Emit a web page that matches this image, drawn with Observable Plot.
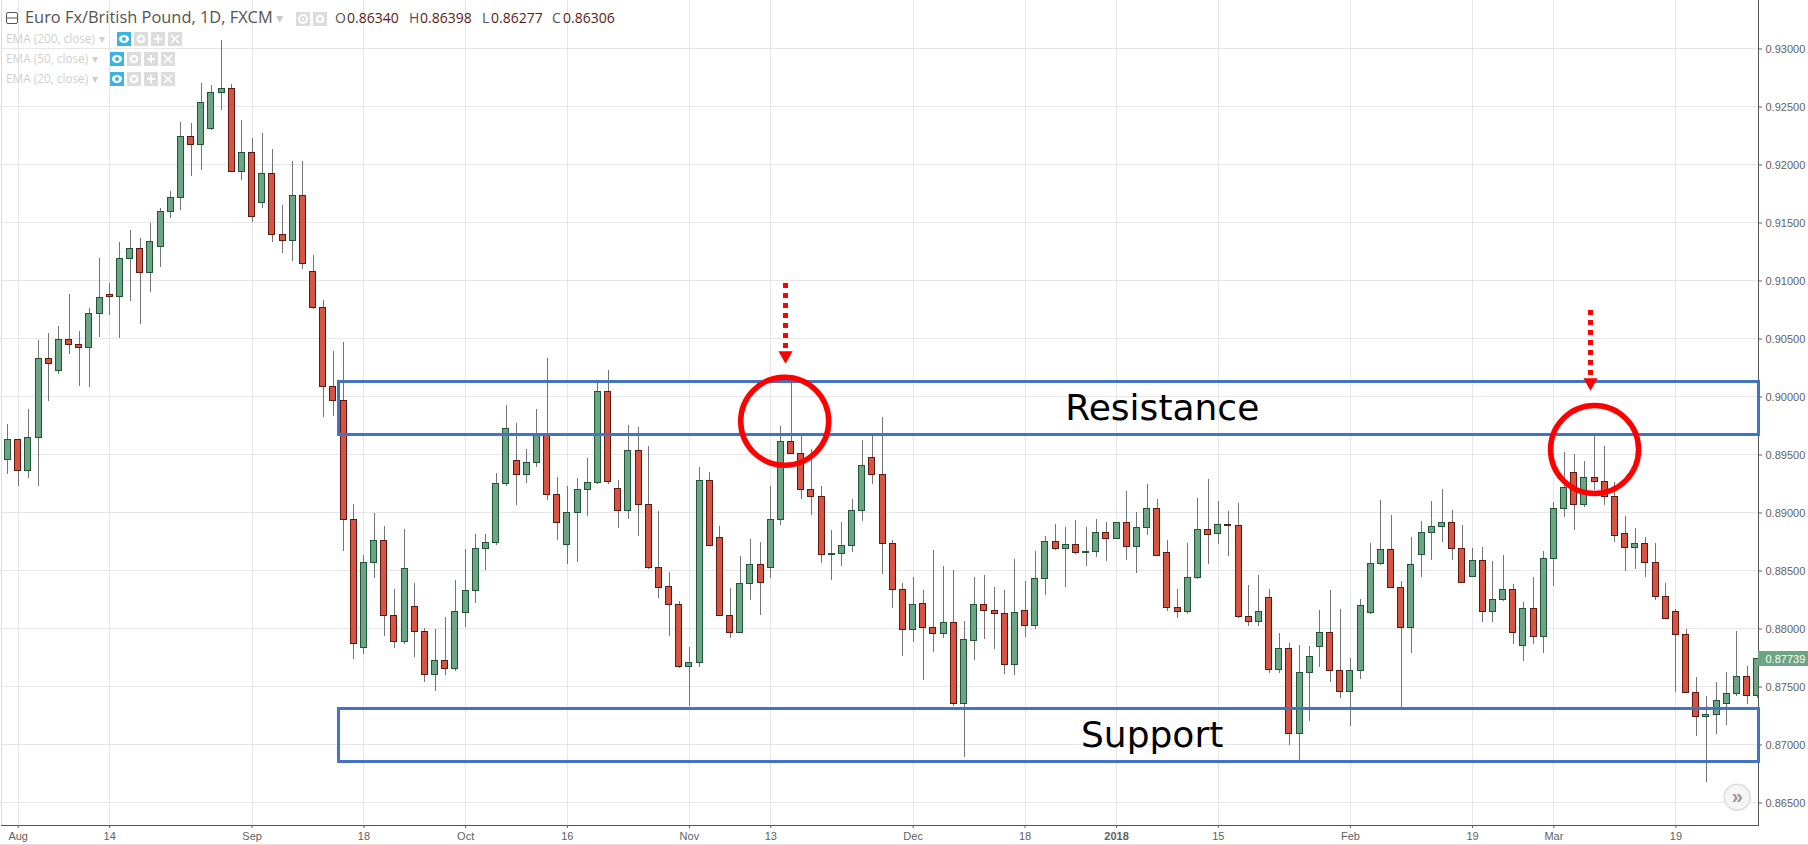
<!DOCTYPE html>
<html>
<head>
<meta charset="utf-8">
<script src="https://cdn.jsdelivr.net/npm/d3@7"></script>
<script src="https://cdn.jsdelivr.net/npm/@observablehq/plot@0.6"></script>
<style>
html,body{margin:0;padding:0;background:#fff;overflow:hidden}
#wrap{position:relative;width:1808px;height:845px}
#wrap svg.chart{display:block}
.t{position:absolute;white-space:nowrap;line-height:1}
.ico{position:absolute}
#baseline{position:absolute;left:0;top:844px;width:1808px;height:1px;background:#e0e0e0}
</style>
</head>
<body>
<div id="wrap"></div>
<script>
const opens=[0.89457,0.89630,0.89363,0.89647,0.90328,0.90225,0.90492,0.90449,0.90423,0.90716,0.90880,0.90863,0.91190,0.91277,0.91070,0.91294,0.91596,0.91716,0.92242,0.92173,0.92311,0.92622,0.92656,0.91941,0.92104,0.91673,0.91923,0.91397,0.91346,0.91734,0.91078,0.90768,0.90087,0.89966,0.88940,0.87836,0.88569,0.88759,0.88112,0.87888,0.88190,0.87974,0.87604,0.87724,0.87653,0.88135,0.88325,0.88690,0.88739,0.89250,0.89449,0.89328,0.89432,0.89673,0.89156,0.88725,0.89000,0.89199,0.89259,0.90044,0.89207,0.89018,0.89535,0.89069,0.88526,0.88362,0.88207,0.87673,0.87707,0.89276,0.88785,0.88112,0.87966,0.88388,0.88552,0.88526,0.88940,0.89613,0.89509,0.89199,0.89138,0.88641,0.88647,0.88716,0.89018,0.89475,0.89328,0.88733,0.88337,0.87992,0.88216,0.88009,0.87957,0.88052,0.87354,0.87897,0.88207,0.88155,0.88130,0.87690,0.88155,0.88026,0.88431,0.88750,0.88690,0.88725,0.88653,0.88664,0.88828,0.88776,0.88914,0.88707,0.88871,0.89035,0.88656,0.88181,0.88147,0.88440,0.88854,0.88819,0.88897,0.88888,0.88104,0.88061,0.88268,0.87647,0.87828,0.87095,0.87621,0.87845,0.87966,0.87638,0.87457,0.87638,0.88138,0.88561,0.88681,0.88354,0.88009,0.88638,0.88828,0.88880,0.88914,0.88690,0.88449,0.88587,0.88147,0.88250,0.88337,0.87854,0.88173,0.87931,0.88604,0.89035,0.89345,0.89069,0.89302,0.89268,0.89138,0.88819,0.88699,0.88733,0.88569,0.88276,0.88147,0.87949,0.87448,0.87242,0.87259,0.87354,0.87440,0.87586,0.87423];
const highs=[0.89762,0.89636,0.89888,0.90486,0.90549,0.90607,0.90883,0.90564,0.90762,0.91193,0.90975,0.91331,0.91435,0.91366,0.91495,0.91621,0.91771,0.92366,0.92357,0.92702,0.92685,0.93073,0.92691,0.92383,0.92228,0.92271,0.92133,0.91650,0.92030,0.92030,0.91219,0.90831,0.90391,0.90469,0.89072,0.88633,0.88995,0.88883,0.88339,0.88857,0.88391,0.88000,0.87995,0.88098,0.88417,0.88684,0.88814,0.88814,0.89337,0.89926,0.89771,0.89544,0.89891,0.90328,0.89302,0.89227,0.89294,0.89466,0.90127,0.90228,0.89279,0.89753,0.89736,0.89569,0.89012,0.88483,0.88233,0.87839,0.89388,0.89345,0.88883,0.88348,0.88624,0.88770,0.88745,0.89227,0.89745,0.90136,0.89659,0.89544,0.89225,0.88848,0.88917,0.89115,0.89624,0.89659,0.89820,0.88762,0.88391,0.88443,0.88331,0.88676,0.88538,0.88503,0.88063,0.88443,0.88460,0.88357,0.88331,0.88598,0.88408,0.88667,0.88796,0.88900,0.88874,0.88934,0.88874,0.88943,0.88917,0.88914,0.89184,0.89003,0.89245,0.89115,0.88762,0.88339,0.88736,0.89124,0.89288,0.89098,0.89012,0.89081,0.88374,0.88460,0.88339,0.87960,0.87877,0.87857,0.87848,0.88158,0.88331,0.88167,0.87744,0.88253,0.88733,0.89104,0.88977,0.88408,0.88785,0.88926,0.89098,0.89202,0.89021,0.88891,0.88690,0.88699,0.88581,0.88633,0.88380,0.88227,0.88440,0.88667,0.89090,0.89521,0.89503,0.89443,0.89659,0.89572,0.89262,0.88969,0.88865,0.88793,0.88733,0.88388,0.88164,0.87992,0.87578,0.87417,0.87538,0.87624,0.87977,0.87673,0.87742];
const lows=[0.89334,0.89230,0.89299,0.89230,0.89960,0.90196,0.90368,0.90090,0.90084,0.90515,0.90702,0.90506,0.90825,0.90627,0.90903,0.91119,0.91538,0.91610,0.91900,0.91952,0.92300,0.92469,0.91938,0.91866,0.91507,0.91627,0.91331,0.91236,0.91167,0.91101,0.90756,0.89825,0.89831,0.88670,0.87739,0.87782,0.88437,0.87937,0.87834,0.87868,0.87756,0.87540,0.87463,0.87601,0.87635,0.88012,0.88219,0.88503,0.88719,0.89230,0.89067,0.89256,0.89394,0.89110,0.88765,0.88558,0.88575,0.88972,0.89248,0.89248,0.88868,0.88946,0.88799,0.88512,0.88265,0.87937,0.87661,0.87333,0.87670,0.88713,0.88105,0.87920,0.87960,0.88245,0.88118,0.88437,0.88891,0.89503,0.89118,0.88980,0.88566,0.88420,0.88541,0.88661,0.88929,0.89248,0.88472,0.88178,0.87762,0.87882,0.87555,0.87796,0.87917,0.87333,0.86894,0.87727,0.87908,0.87822,0.87609,0.87598,0.87926,0.87997,0.88288,0.88679,0.88357,0.88641,0.88538,0.88618,0.88581,0.88776,0.88589,0.88477,0.88805,0.88630,0.88153,0.88092,0.88127,0.88428,0.88558,0.88730,0.88624,0.88092,0.88023,0.88023,0.87618,0.87618,0.86994,0.86865,0.87201,0.87667,0.87540,0.87402,0.87161,0.87566,0.88121,0.88549,0.88345,0.87310,0.87790,0.88440,0.88587,0.88747,0.88587,0.88397,0.88449,0.88058,0.88058,0.88233,0.87868,0.87721,0.87868,0.87790,0.88368,0.88963,0.88851,0.89049,0.89193,0.89067,0.88747,0.88495,0.88512,0.88446,0.88242,0.88086,0.87454,0.87448,0.87075,0.86678,0.87092,0.87170,0.87420,0.87345,0.87402];
const closes=[0.89630,0.89363,0.89647,0.90328,0.90285,0.90492,0.90449,0.90420,0.90716,0.90854,0.90863,0.91190,0.91277,0.91070,0.91337,0.91596,0.91716,0.92242,0.92173,0.92535,0.92622,0.92656,0.91941,0.92104,0.91553,0.91923,0.91397,0.91346,0.91734,0.91147,0.90768,0.90087,0.89966,0.88940,0.87871,0.88569,0.88759,0.88112,0.87888,0.88518,0.87974,0.87604,0.87724,0.87655,0.88147,0.88328,0.88690,0.88742,0.89250,0.89725,0.89328,0.89432,0.89673,0.89156,0.88914,0.89000,0.89199,0.89259,0.90044,0.89268,0.89018,0.89535,0.89069,0.88526,0.88354,0.88207,0.87673,0.87707,0.89276,0.88716,0.88112,0.87966,0.88388,0.88552,0.88397,0.88940,0.89613,0.89509,0.89199,0.89138,0.88638,0.88644,0.88716,0.89018,0.89406,0.89328,0.88733,0.88337,0.87992,0.88207,0.88009,0.87957,0.88052,0.87354,0.87905,0.88207,0.88155,0.88130,0.87690,0.88138,0.88026,0.88431,0.88750,0.88690,0.88725,0.88656,0.88664,0.88828,0.88776,0.88914,0.88707,0.88871,0.89035,0.88630,0.88181,0.88147,0.88440,0.88854,0.88811,0.88897,0.88888,0.88104,0.88061,0.88147,0.87647,0.87828,0.87095,0.87621,0.87759,0.87966,0.87638,0.87457,0.87638,0.88199,0.88561,0.88681,0.88354,0.88009,0.88552,0.88828,0.88880,0.88914,0.88690,0.88397,0.88587,0.88147,0.88250,0.88337,0.87966,0.88173,0.87931,0.88604,0.89035,0.89216,0.89069,0.89302,0.89268,0.89138,0.88802,0.88699,0.88733,0.88569,0.88276,0.88086,0.87949,0.87448,0.87242,0.87259,0.87379,0.87440,0.87586,0.87423,0.87739];

// trading-day positions of the date axis
const dayTicks=[1,10,24,35,45,55,67,75,89,100,119,132,144,152,164];
const dayLabels=["Aug","14","Sep","18","Oct","16","Nov","13","Dec","18","15","Feb","19","Mar","19"];
const yearTick=[109];
const yearLabel="2018";
const priceTicks=[0.865,0.87,0.875,0.88,0.885,0.89,0.895,0.90,0.905,0.91,0.915,0.92,0.925,0.93];

// annotations, in chart coordinates (trading day, price)
const zones=[{name:"Resistance",low:0.89673,high:0.90127,day:113.5},{name:"Support",low:0.86854,high:0.87311,day:112.5}];
const circles=[{day:76.37,price:0.89791},{day:156.0,price:0.89547}];
const arrows=[{day:76.45,from:0.90978,to:0.90392,tip:0.90358},{day:155.6,from:0.90746,to:0.90159,tip:0.90125}];
const dayMin=-0.639, dayMax=172.12, dayEdge=177.04, zoneStart=32.55, halfBody=0.295;
const lastTag=[{price:0.87739,text:"0.87739"}];
const scrollBtn=[{day:170.03,price:0.8655}];

const candles=opens.map((o,i)=>({i,open:o,high:highs[i],low:lows[i],close:closes[i]}));
const ups=candles.filter(d=>d.close>=d.open), downs=candles.filter(d=>d.close<d.open);
const labelOf=new Map(dayTicks.map((t,k)=>[t,dayLabels[k]]));
const crisp={shapeRendering:"crispEdges"};

const chart=Plot.plot({
  width:1808,height:845,
  marginTop:0,marginBottom:20,marginLeft:1,marginRight:50,
  className:"chart",
  style:{fontFamily:"'Liberation Sans',Arial,sans-serif",background:"#fff",overflow:"visible"},
  x:{domain:[dayMin,dayMax]},
  y:{domain:[0.86306,0.93418]},
  marks:[
    Plot.ruleY(priceTicks,{stroke:"#e6e6e6",...crisp}),
    Plot.ruleX([...dayTicks,...yearTick],{stroke:"#e6e6e6",...crisp}),
    Plot.frame({anchor:"left",stroke:"#dcdcdc",...crisp}),
    Plot.ruleX(candles,{x:"i",y1:"low",y2:"high",stroke:"#737375",strokeWidth:1,clip:true,...crisp}),
    Plot.rect(ups,{x1:d=>d.i-halfBody,x2:d=>d.i+halfBody,y1:"open",y2:"close",fill:"#6ba583",stroke:"#225437",strokeWidth:1,clip:true,...crisp}),
    Plot.rect(downs,{x1:d=>d.i-halfBody,x2:d=>d.i+halfBody,y1:"open",y2:"close",fill:"#d75442",stroke:"#5b1a13",strokeWidth:1,clip:true,...crisp}),
    Plot.frame({anchor:"right",stroke:"#555",...crisp}),
    Plot.frame({anchor:"bottom",stroke:"#555",...crisp}),
    Plot.axisY(priceTicks,{anchor:"right",label:null,tickSize:3,tickPadding:4,tickFormat:d3.format(".5f"),fontSize:11,color:"#5f5f5f"}),
    Plot.axisX(dayTicks,{anchor:"bottom",label:null,tickSize:3,tickPadding:4,tickFormat:d=>labelOf.get(d),fontSize:11,color:"#5f5f5f"}),
    Plot.axisX(yearTick,{anchor:"bottom",label:null,tickSize:3,tickPadding:4,tickFormat:()=>yearLabel,fontSize:11,fontWeight:"bold",color:"#5f5f5f"}),
    Plot.rect(zones,{x1:zoneStart,x2:dayMax,y1:"low",y2:"high",fill:"none",stroke:"#4472c4",strokeWidth:3,...crisp}),
    Plot.text(zones,{x:"day",y:d=>(d.low+d.high)/2,text:"name",fontFamily:"'DejaVu Sans'",fontSize:36,fill:"#000"}),
    Plot.dot(circles,{x:"day",y:"price",r:44,stroke:"#ff0000",strokeWidth:5.5,fill:"none"}),
    Plot.ruleX(arrows,{x:"day",y1:"from",y2:"to",stroke:"#ff0000",strokeWidth:5,strokeDasharray:"5 5"}),
    Plot.dot(arrows,{x:"day",y:"tip",symbol:"triangle",rotate:180,r:5.3,fill:"#ff0000",stroke:"none"}),
    Plot.rect(lastTag,{x1:dayMax,x2:dayEdge,y1:d=>d.price-0.00066,y2:d=>d.price+0.00066,fill:"#6ba583",...crisp}),
    Plot.text(lastTag,{x:dayMax,y:"price",text:"text",textAnchor:"start",dx:7,fontSize:11,fill:"#fff"}),
    Plot.dot(scrollBtn,{x:"day",y:"price",r:13,fill:"#f5f5f5",stroke:"#dddddd"}),
    Plot.text(scrollBtn,{x:"day",y:"price",text:()=>"\u00bb",fontSize:20,fontWeight:"bold",fill:"#9a9a9a",dy:-1})
  ]
});
const wrap=document.getElementById("wrap");
wrap.appendChild(chart);

// chart legend overlay
const legendFont="'Open Sans',sans-serif";
function label(text,x,cy,size,color,font){
  const e=document.createElement("div");e.className="t";e.textContent=text;
  e.style.cssText+=`left:${x}px;top:${cy-size/2-0.5}px;font-size:${size}px;color:${color};font-family:${font||legendFont}`;
  wrap.appendChild(e);return e;
}
function icon(kind,x,y){
  const s=14,bg=kind==="eye"?"#3bb3e4":"#dcdcdc";
  const inner={
    eye:`<ellipse cx="7" cy="7" rx="5" ry="4" fill="#fff"/><circle cx="7" cy="7" r="2" fill="#3bb3e4"/>`,
    gear:`<circle cx="7" cy="7" r="3.2" fill="none" stroke="#fff" stroke-width="2.2"/>`,
    plus:`<path d="M7 3V11M3 7H11" stroke="#fff" stroke-width="2"/>`,
    cross:`<path d="M3 3L11 11M11 3L3 11" stroke="#fff" stroke-width="1.6"/>`,
    ring:`<circle cx="7" cy="7" r="4" fill="none" stroke="#fff" stroke-width="2"/><circle cx="7" cy="7" r="1.2" fill="#fff"/>`
  }[kind];
  const d=document.createElement("div");d.className="ico";
  d.style.cssText+=`left:${x}px;top:${y}px;width:${s}px;height:${s}px`;
  d.innerHTML=`<svg width="${s}" height="${s}" style="display:block"><rect width="${s}" height="${s}" fill="${bg}"/>${inner}</svg>`;
  wrap.appendChild(d);
}
const minus=document.createElement("div");minus.className="ico";
minus.style.cssText+="left:6px;top:12px;width:12px;height:12px";
minus.innerHTML=`<svg width="12" height="12" style="display:block"><rect x=".5" y=".5" width="11" height="11" rx="1.5" fill="#fff" stroke="#555"/><path d="M0 6H12" stroke="#555"/></svg>`;
wrap.appendChild(minus);

label("Euro Fx/British Pound, 1D, FXCM",25,18,16.4,"#535353");
label("\u25be",276,18,14,"#c8c8c8");
icon("ring",296,12);icon("gear",313,12);

const ohlcNames=["O","H","L","C"];
const ohlcValues=["0.86340","0.86398","0.86277","0.86306"];
const ohlcNameX=[335,409,482,552];
const ohlcValueX=[347,420,491,563];
ohlcNames.forEach((n,k)=>{
  label(n,ohlcNameX[k],18,14,"#555");
  label(ohlcValues[k],ohlcValueX[k],18,14,"#5b1a13");
});

const emaNames=["EMA (200, close)","EMA (50, close)","EMA (20, close)"];
const emaRowY=[39,59,79];
const emaIconX=[117,110,110];
emaNames.forEach((n,k)=>{
  label(n,6,emaRowY[k],11.8,"#cfcfcf");
  label("\u25be",emaIconX[k]-18,emaRowY[k],12,"#cfcfcf");
  const y=emaRowY[k]-7,x=emaIconX[k];
  icon("eye",x,y);icon("gear",x+17,y);icon("plus",x+34,y);icon("cross",x+51,y);
});
const base=document.createElement("div");base.id="baseline";wrap.appendChild(base);
</script>
</body>
</html>
